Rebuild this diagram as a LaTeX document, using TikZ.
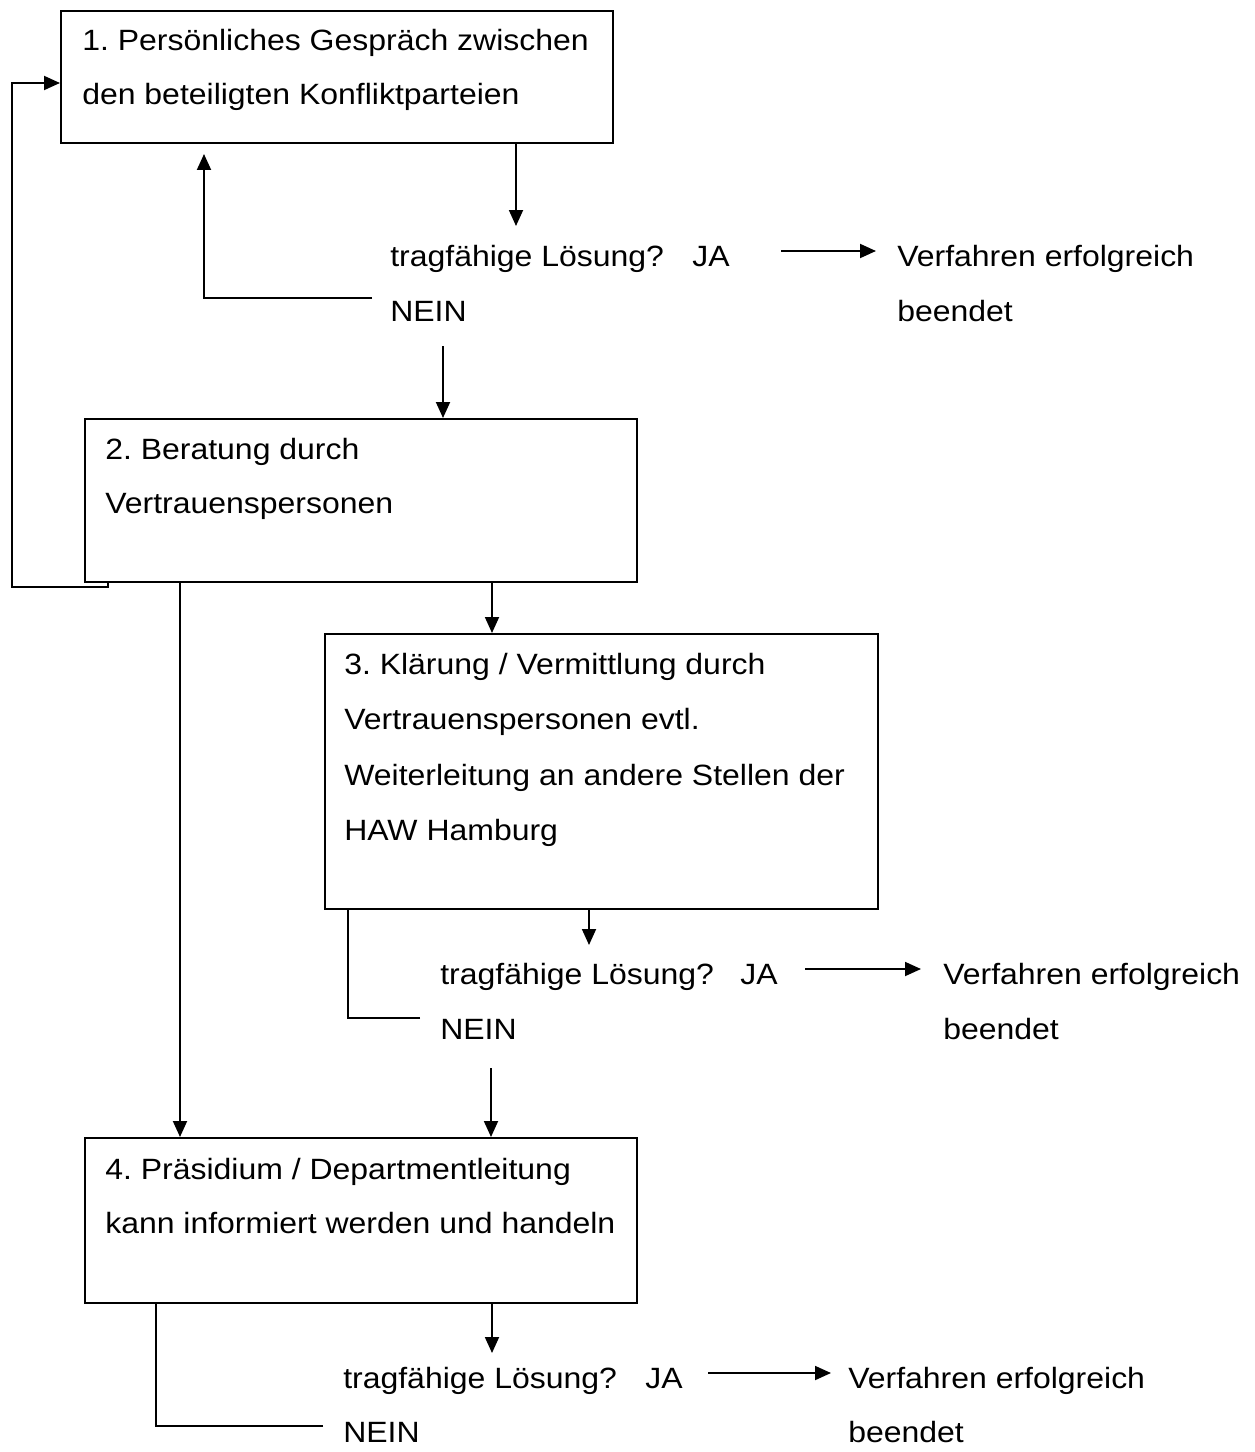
\documentclass[tikz,border=0pt]{standalone}
\usepackage{fontspec}
\setmainfont[FakeStretch=1.09]{Liberation Sans}
\usetikzlibrary{arrows.meta}
\begin{document}
\frenchspacing
\begin{tikzpicture}[x=0.75pt,y=-0.75pt,
  box/.style={draw,line width=1.5pt,rectangle,inner sep=0pt,anchor=north west},
  txt/.style={anchor=base west,inner sep=0pt,font=\fontsize{22}{26}\selectfont},
  con/.style={line width=1.4pt},
  arr/.style={con,-{Triangle[length=12pt,width=10.5pt]}}]
\useasboundingbox (0,0) rectangle (1254,1452);
% boxes
\node[box,minimum width=552*0.75pt,minimum height=132*0.75pt] (b1) at (60,10) {};
\node[box,minimum width=552*0.75pt,minimum height=163*0.75pt] (b2) at (84,418) {};
\node[box,minimum width=553*0.75pt,minimum height=275*0.75pt] (b3) at (324,633) {};
\node[box,minimum width=552*0.75pt,minimum height=165*0.75pt] (b4) at (84,1137) {};
% box texts
\node[txt] (t1a) at (82,51) {1. Persönliches Gespräch zwischen};
\node[txt] (t1b) at (82,105) {den beteiligten Konfliktparteien};
\node[txt] (t2a) at (105,459) {2. Beratung durch};
\node[txt] (t2b) at (105,513) {Vertrauenspersonen};
\node[txt] (t3a) at (344,674) {3. Klärung / Vermittlung durch};
\node[txt] (t3b) at (344,729) {Vertrauenspersonen evtl.};
\node[txt] (t3c) at (344,785) {Weiterleitung an andere Stellen der};
\node[txt] (t3d) at (344,840) {HAW Hamburg};
\node[txt] (t4a) at (105,1179) {4. Präsidium / Departmentleitung};
\node[txt] (t4b) at (105,1233) {kann informiert werden und handeln};
% decision 1
\node[txt] (q1) at (390,266) {tragfähige Lösung?};
\node[txt] (ja1) at (692,266) {JA};
\node[txt] (n1) at (390,321) {NEIN};
\node[txt] (v1a) at (897,266) {Verfahren erfolgreich};
\node[txt] (v1b) at (897,321) {beendet};
% decision 2
\node[txt] (q2) at (440,984) {tragfähige Lösung?};
\node[txt] (ja2) at (740,984) {JA};
\node[txt] (n2) at (440,1039) {NEIN};
\node[txt] (v2a) at (943,984) {Verfahren erfolgreich};
\node[txt] (v2b) at (943,1039) {beendet};
% decision 3
\node[txt] (q3) at (343,1388) {tragfähige Lösung?};
\node[txt] (ja3) at (645,1388) {JA};
\node[txt] (n3) at (343,1442) {NEIN};
\node[txt] (v3a) at (848,1388) {Verfahren erfolgreich};
\node[txt] (v3b) at (848,1442) {beendet};
% coordinates
\coordinate (d1) at (516,226);
\coordinate (d2) at (589,945);
\coordinate (d3) at (492,1353);
% connectors
\draw[arr] (b1.south west -| d1) -- (d1);
\draw[arr] (372,298) -| (204,154);
\draw[arr] (443,346) -- (b2.north west -| 443,0);
\draw[arr] (781,251) -- (876,251);
\draw[arr] (b2.south west -| 108,0) |- (12,587) |- (b1.west |- 0,83);
\draw[arr] (b2.south west -| 180,0) -- (b4.north west -| 180,0);
\draw[arr] (b2.south west -| 492,0) -- (b3.north west -| 492,0);
\draw[arr] (b3.south west -| d2) -- (d2);
\draw[con] (420,1018) -| (b3.south west -| 348,0);
\draw[arr] (805,969) -- (921,969);
\draw[arr] (491,1068) -- (b4.north west -| 491,0);
\draw[arr] (b4.south west -| d3) -- (d3);
\draw[con] (323,1426) -| (b4.south west -| 156,0);
\draw[arr] (708,1373) -- (831,1373);
\end{tikzpicture}
\end{document}
